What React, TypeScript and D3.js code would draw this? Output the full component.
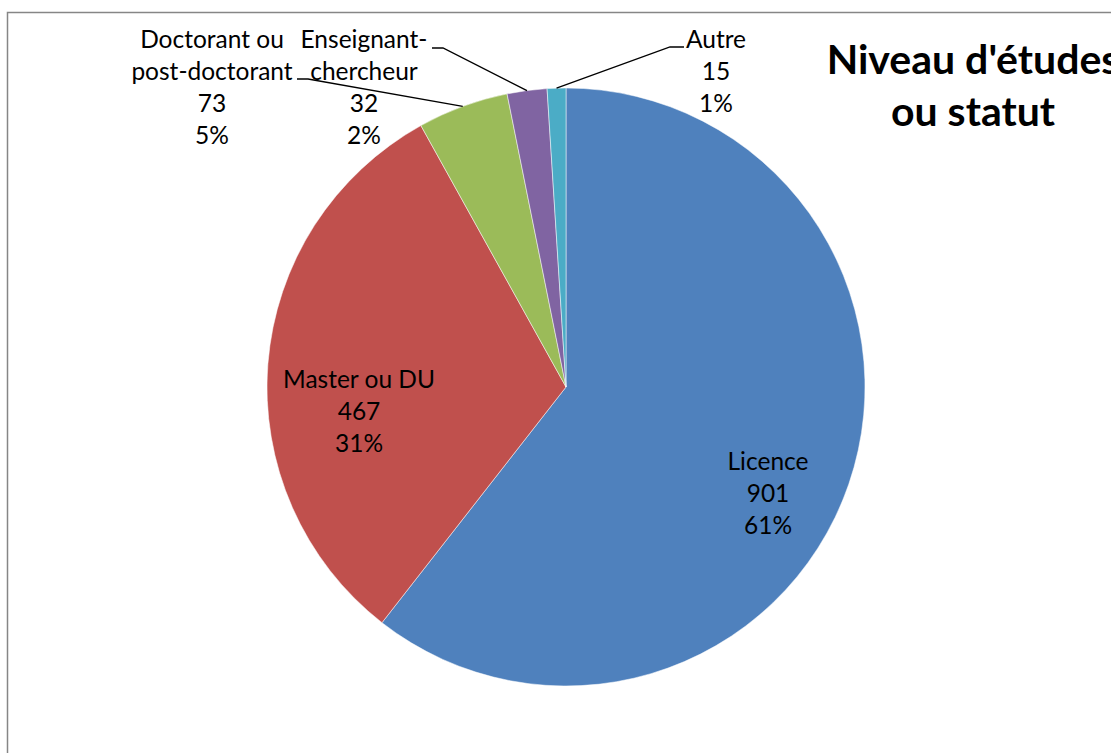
import React from "react";
import * as d3 from "d3";

const categories = ["Licence", "Master ou DU", "Doctorant ou post-doctorant", "Enseignant-chercheur", "Autre"];
const values = [901, 467, 73, 32, 15];
const percents = ["61%", "31%", "5%", "2%", "1%"];
const labelLines = [
  ["Licence"],
  ["Master ou DU"],
  ["Doctorant ou", "post-doctorant"],
  ["Enseignant-", "chercheur"],
  ["Autre"],
];
const colors = ["#4F81BD", "#C0504D", "#9BBB59", "#8064A2", "#4BACC6"];
const title = ["Niveau d'études", "ou statut"];

const W = 1111;
const H = 753;
const cx = 566;
const cy = 387;
const R = 299;
const FONT = "Lato, 'Open Sans', sans-serif";
const FS = 24.5;
const LH = 32;

// label placement (center x, first baseline y) and leader elbow
const labelPos: { x: number; y: number; elbow?: [number, number]; hx?: number }[] = [
  { x: 768, y: 470 },
  { x: 359, y: 388 },
  { x: 212, y: 48, elbow: [308, 79], hx: 297 },
  { x: 364, y: 48, elbow: [443, 48], hx: 432 },
  { x: 716, y: 48, elbow: [670, 47], hx: 684 },
];

export default function App() {
  const pie = d3.pie<number>().sort(null).value((d) => d).startAngle(0).endAngle(2 * Math.PI);
  const arcs = pie(values);
  const arc = d3.arc<d3.PieArcDatum<number>>().innerRadius(0).outerRadius(R);

  return (
    <svg width={W} height={H} style={{ display: "block", position: "absolute", left: 0, top: 0 }}>
      <rect x={0} y={0} width={W} height={H} fill="#fff" />
      <rect x={7.5} y={12.5} width={W + 20} height={H + 20} fill="none" stroke="#868686" strokeWidth={1.5} />
      <g transform={`translate(${cx},${cy})`}>
        {arcs.map((a, i) => (
          <path key={categories[i]} d={arc(a) || ""} fill={colors[i]} stroke="#fff" strokeWidth={0.5} />
        ))}
      </g>
      {arcs.map((a, i) => {
        const p = labelPos[i];
        if (!p.elbow) return null;
        const mid = (a.startAngle + a.endAngle) / 2;
        const ex = cx + R * Math.sin(mid);
        const ey = cy - R * Math.cos(mid);
        return (
          <polyline
            key={"l" + i}
            points={`${p.hx},${p.elbow[1]} ${p.elbow[0]},${p.elbow[1]} ${ex},${ey}`}
            fill="none"
            stroke="#000"
            strokeWidth={1.3}
          />
        );
      })}
      {arcs.map((a, i) => {
        const p = labelPos[i];
        const lines = [...labelLines[i], String(values[i]), percents[i]];
        return (
          <text key={"t" + i} fontFamily={FONT} fontSize={FS} fill="#000" textAnchor="middle">
            {lines.map((ln, j) => (
              <tspan key={j} x={p.x} y={p.y + j * LH}>
                {ln}
              </tspan>
            ))}
          </text>
        );
      })}
      <text fontFamily={FONT} fontSize={41} fontWeight="bold" fill="#000" textAnchor="middle">
        {title.map((t, j) => (
          <tspan key={j} x={973} y={74 + j * 52}>
            {t}
          </tspan>
        ))}
      </text>
    </svg>
  );
}
